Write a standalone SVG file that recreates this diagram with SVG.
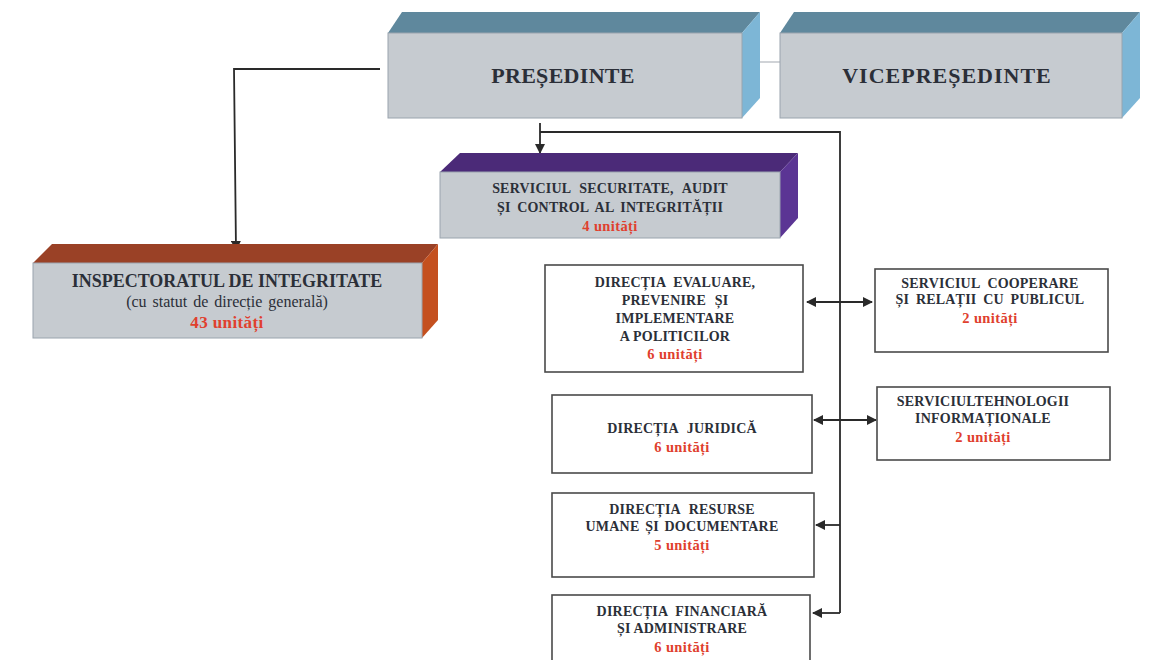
<svg xmlns="http://www.w3.org/2000/svg" width="1152" height="660" viewBox="0 0 1152 660">
<defs>
<marker id="ahs" viewBox="0 0 10 10" refX="9" refY="5" markerWidth="10" markerHeight="10" orient="auto-start-reverse" markerUnits="userSpaceOnUse">
<path d="M0,0 L10,5 L0,10 z" fill="#2a2a2a"/>
</marker>
</defs>
<style>
.front{fill:#c6cbd0;stroke:#9aa4ae;stroke-width:1}
.box{fill:#ffffff;stroke:#4a4a4a;stroke-width:1.6}
.t{font-family:"Liberation Serif","Times New Roman",serif;font-weight:bold;fill:#2b2f38;text-anchor:middle}
.s{font-size:14px;letter-spacing:0.2px}
.n{font-family:"Liberation Serif","Times New Roman",serif;fill:#2b2f38;text-anchor:middle}
.r{font-family:"Liberation Serif","Times New Roman",serif;font-weight:bold;fill:#e0402e;text-anchor:middle;font-size:14.5px;letter-spacing:0.4px}
.c{fill:none;stroke:#2a2a2a;stroke-width:1.8}
</style>
<rect width="1152" height="660" fill="#ffffff"/>

<g id="connectors">
<line x1="760" y1="62" x2="780" y2="62" stroke="#b0b6bc" stroke-width="1.2"/>
<polyline class="c" points="380,69 234,69 236,250" marker-end="url(#ahs)"/>
<line class="c" x1="540" y1="123" x2="540" y2="153" marker-end="url(#ahs)"/>
<polyline class="c" points="540,132 840,132 840,613"/>
<line class="c" x1="807" y1="302" x2="872" y2="302" marker-start="url(#ahs)" marker-end="url(#ahs)"/>
<line class="c" x1="814" y1="420" x2="876" y2="420" marker-start="url(#ahs)" marker-end="url(#ahs)"/>
<line class="c" x1="840" y1="525" x2="816" y2="525" marker-end="url(#ahs)"/>
<line class="c" x1="840" y1="613" x2="813" y2="613" marker-end="url(#ahs)"/>
</g>

<g id="presedinte">
<polygon points="388,33 402,12 760,12 742,33" fill="#5f889d"/>
<polygon points="742,33 760,12 760,98 742,118" fill="#7db6d6"/>
<rect class="front" x="388" y="33" width="354" height="85"/>
<text class="t" x="563" y="83" font-size="22" letter-spacing="0.3">PREȘEDINTE</text>
</g>

<g id="vicepresedinte">
<polygon points="780,33 794,12 1140,12 1122,33" fill="#5f889d"/>
<polygon points="1122,33 1140,12 1140,98 1122,118" fill="#7db6d6"/>
<rect class="front" x="780" y="33" width="342" height="85"/>
<text class="t" x="947" y="83" font-size="22" letter-spacing="1">VICEPREȘEDINTE</text>
</g>

<g id="serviciul-securitate">
<polygon points="440,172 460,153 798,153 780,172" fill="#4b2a78"/>
<polygon points="780,172 798,153 798,218 780,238" fill="#5b3594"/>
<rect class="front" x="440" y="172" width="340" height="66"/>
<text class="t s" x="610" y="193" word-spacing="5">SERVICIUL SECURITATE, AUDIT</text>
<text class="t s" x="610" y="212" word-spacing="3">ȘI CONTROL AL INTEGRITĂȚII</text>
<text class="r" x="610" y="231">4 unități</text>
</g>

<g id="inspectoratul">
<polygon points="33,263 52,244 438,244 422,263" fill="#9a4126"/>
<polygon points="422,263 438,244 438,320 422,338" fill="#c4501f"/>
<rect class="front" x="33" y="263" width="389" height="75"/>
<text class="t" x="227" y="287" font-size="18">INSPECTORATUL  DE INTEGRITATE</text>
<text class="n" x="227" y="307" font-size="16" word-spacing="2">(cu statut de direcție  generală)</text>
<text class="r" x="227" y="328" style="font-size:17px">43 unități</text>
</g>

<g id="directia-evaluare">
<rect class="box" x="545" y="265" width="258" height="107"/>
<text class="t s" x="675" y="287" word-spacing="4">DIRECȚIA EVALUARE,</text>
<text class="t s" x="675" y="305" word-spacing="5">PREVENIRE ȘI</text>
<text class="t s" x="675" y="323">IMPLEMENTARE</text>
<text class="t s" x="675" y="341">A POLITICILOR</text>
<text class="r" x="675" y="359">6 unități</text>
</g>

<g id="serviciul-cooperare">
<rect class="box" x="875" y="269" width="233" height="83"/>
<text class="t s" x="990" y="288" word-spacing="4">SERVICIUL COOPERARE</text>
<text class="t s" x="990" y="304" word-spacing="3">ȘI RELAȚII CU PUBLICUL</text>
<text class="r" x="990" y="323">2 unități</text>
</g>

<g id="directia-juridica">
<rect class="box" x="552" y="395" width="260" height="78"/>
<text class="t s" x="682" y="433" word-spacing="5">DIRECȚIA JURIDICĂ</text>
<text class="r" x="682" y="452">6 unități</text>
</g>

<g id="serviciul-tehnologii">
<rect class="box" x="877" y="387" width="233" height="73"/>
<text class="t s" x="983" y="406">SERVICIULTEHNOLOGII</text>
<text class="t s" x="983" y="423">INFORMAȚIONALE</text>
<text class="r" x="983" y="442">2 unități</text>
</g>

<g id="directia-resurse">
<rect class="box" x="552" y="493" width="262" height="84"/>
<text class="t s" x="682" y="514" word-spacing="5">DIRECȚIA RESURSE</text>
<text class="t s" x="682" y="531" word-spacing="2">UMANE  ȘI DOCUMENTARE</text>
<text class="r" x="682" y="550">5 unități</text>
</g>

<g id="directia-financiara">
<rect class="box" x="552" y="595" width="258" height="80"/>
<text class="t s" x="682" y="616" word-spacing="4">DIRECȚIA FINANCIARĂ</text>
<text class="t s" x="682" y="633">ȘI ADMINISTRARE</text>
<text class="r" x="682" y="652">6 unități</text>
</g>
</svg>
